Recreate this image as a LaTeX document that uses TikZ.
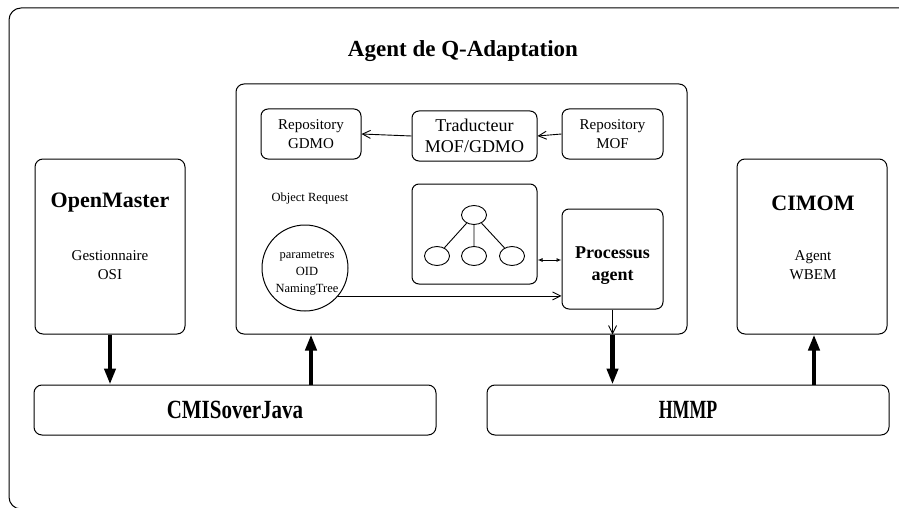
\documentclass[tikz,border=0pt]{standalone}
\usepackage{fontspec}
\setmainfont{Liberation Serif}
\usetikzlibrary{arrows.meta,shapes.geometric}
\tikzset{
  box/.style={draw, line width=1pt, rounded corners=8pt, inner sep=0pt, align=center},
  ibox/.style={draw, line width=1pt, rounded corners=7pt, inner sep=0pt, align=center},
  fa/.style={font=\fontsize{15}{19}\selectfont},
  fb/.style={font=\fontsize{18}{21}\selectfont},
  fs/.style={font=\fontsize{12.5}{17}\selectfont},
  thin arr/.style={line width=0.9pt, -{Straight Barb[length=8pt,width=8pt]}},
  big/.style={line width=4.5pt, -{Triangle[length=16pt,width=11pt]}},
  leaf/.style={draw, ellipse, line width=0.9pt, minimum width=25pt, minimum height=19pt, inner sep=0pt},
}
\begin{document}
\begin{tikzpicture}[x=1pt,y=-1pt]
\useasboundingbox (0,0) rectangle (899,508);
\begin{scope}
\clip (0,0) rectangle (899,508);
\draw[line width=1pt, rounded corners=12pt] (9,8) rectangle (930,509);
\end{scope}
% title
\node[font=\bfseries\fontsize{23}{27}\selectfont] (title) at (463,51) {Agent de Q-Adaptation};
% main boxes
\node[box, minimum width=451pt, minimum height=250pt] (agent) at (461.5,209) {};
\node[ibox, fa, minimum width=100pt, minimum height=50pt] (gdmo) at (311,134) {Repository\\GDMO};
\node[ibox, fb, minimum width=125pt, minimum height=50pt] (trad) at (474.5,136) {Traducteur\\MOF/GDMO};
\node[ibox, fa, minimum width=101pt, minimum height=50pt] (mof) at (612.5,134) {Repository\\MOF};
\node[ibox, minimum width=125pt, minimum height=100pt] (tree) at (474.5,234) {};
\node[ibox, minimum width=101pt, minimum height=100pt] (proc) at (612.5,259) {};
\node[font=\bfseries\fontsize{18}{22}\selectfont, align=center] (proctxt) at (612.5,266) {Processus\\agent};
% tree
\node[leaf] (t0) at (474,215) {};
\node[leaf] (t1) at (437,256) {};
\node[leaf] (t2) at (474,256) {};
\node[leaf] (t3) at (512,256) {};
\draw[line width=0.9pt] (t0) -- (t1) (t0) -- (t2) (t0) -- (t3);
% circle
\node[draw, circle, line width=1pt, minimum size=86pt, inner sep=0pt] (circ) at (305,268) {};
\node[fs, align=center] (circtxt) at (307,273) {parametres\\OID\\NamingTree};
\node[fs] (objreq) at (310,198) {Object Request};
% side boxes
\node[box, minimum width=150pt, minimum height=175pt] (open) at (110,246.5) {};
\node[font=\bfseries\fontsize{22}{26}\selectfont] (opent) at (110,203) {OpenMaster};
\node[fa, align=center] (openst) at (110,265) {Gestionnaire\\OSI};
\node[box, minimum width=150pt, minimum height=175pt] (cimom) at (812,246.5) {};
\node[font=\bfseries\fontsize{22}{26}\selectfont] (cimomt) at (813,203) {CIMOM};
\node[fa, align=center] (cimomst) at (813,265) {Agent\\WBEM};
% bottom boxes
\node[box, minimum width=402pt, minimum height=50pt, font=\bfseries\fontsize{21}{25}\selectfont] (cmis) at (235,410) {\scalebox{1}[1.25]{CMISoverJava}};
\node[box, minimum width=402pt, minimum height=50pt, font=\bfseries\fontsize{21}{25}\selectfont] (hmmp) at (688,410) {\scalebox{0.85}[1.25]{HMMP}};
% thin arrows
\draw[thin arr] (trad.west) -- (gdmo.east);
\draw[thin arr] (mof.west) -- (trad.east);
\draw[line width=0.9pt, {Latex[open,length=5pt,width=4pt]}-{Latex[open,length=5pt,width=4pt]}] (tree.east |- 0,260) -- (proc.west |- 0,260);
\draw[thin arr] (circ.-40) -- (circ.-40 -| proc.west);
\draw[thin arr] (proc.south) -- (proc.south |- agent.south);
% big arrows
\coordinate (u1) at (311,0);
\coordinate (u2) at (612.5,0);
\coordinate (u3) at (814,0);
\draw[big] (open.south) -- (open.south |- cmis.north);
\draw[big] (cmis.north -| u1) -- (agent.south -| u1);
\draw[big] (agent.south -| u2) -- (hmmp.north -| u2);
\draw[big] (hmmp.north -| u3) -- (cimom.south -| u3);
\end{tikzpicture}
\end{document}
